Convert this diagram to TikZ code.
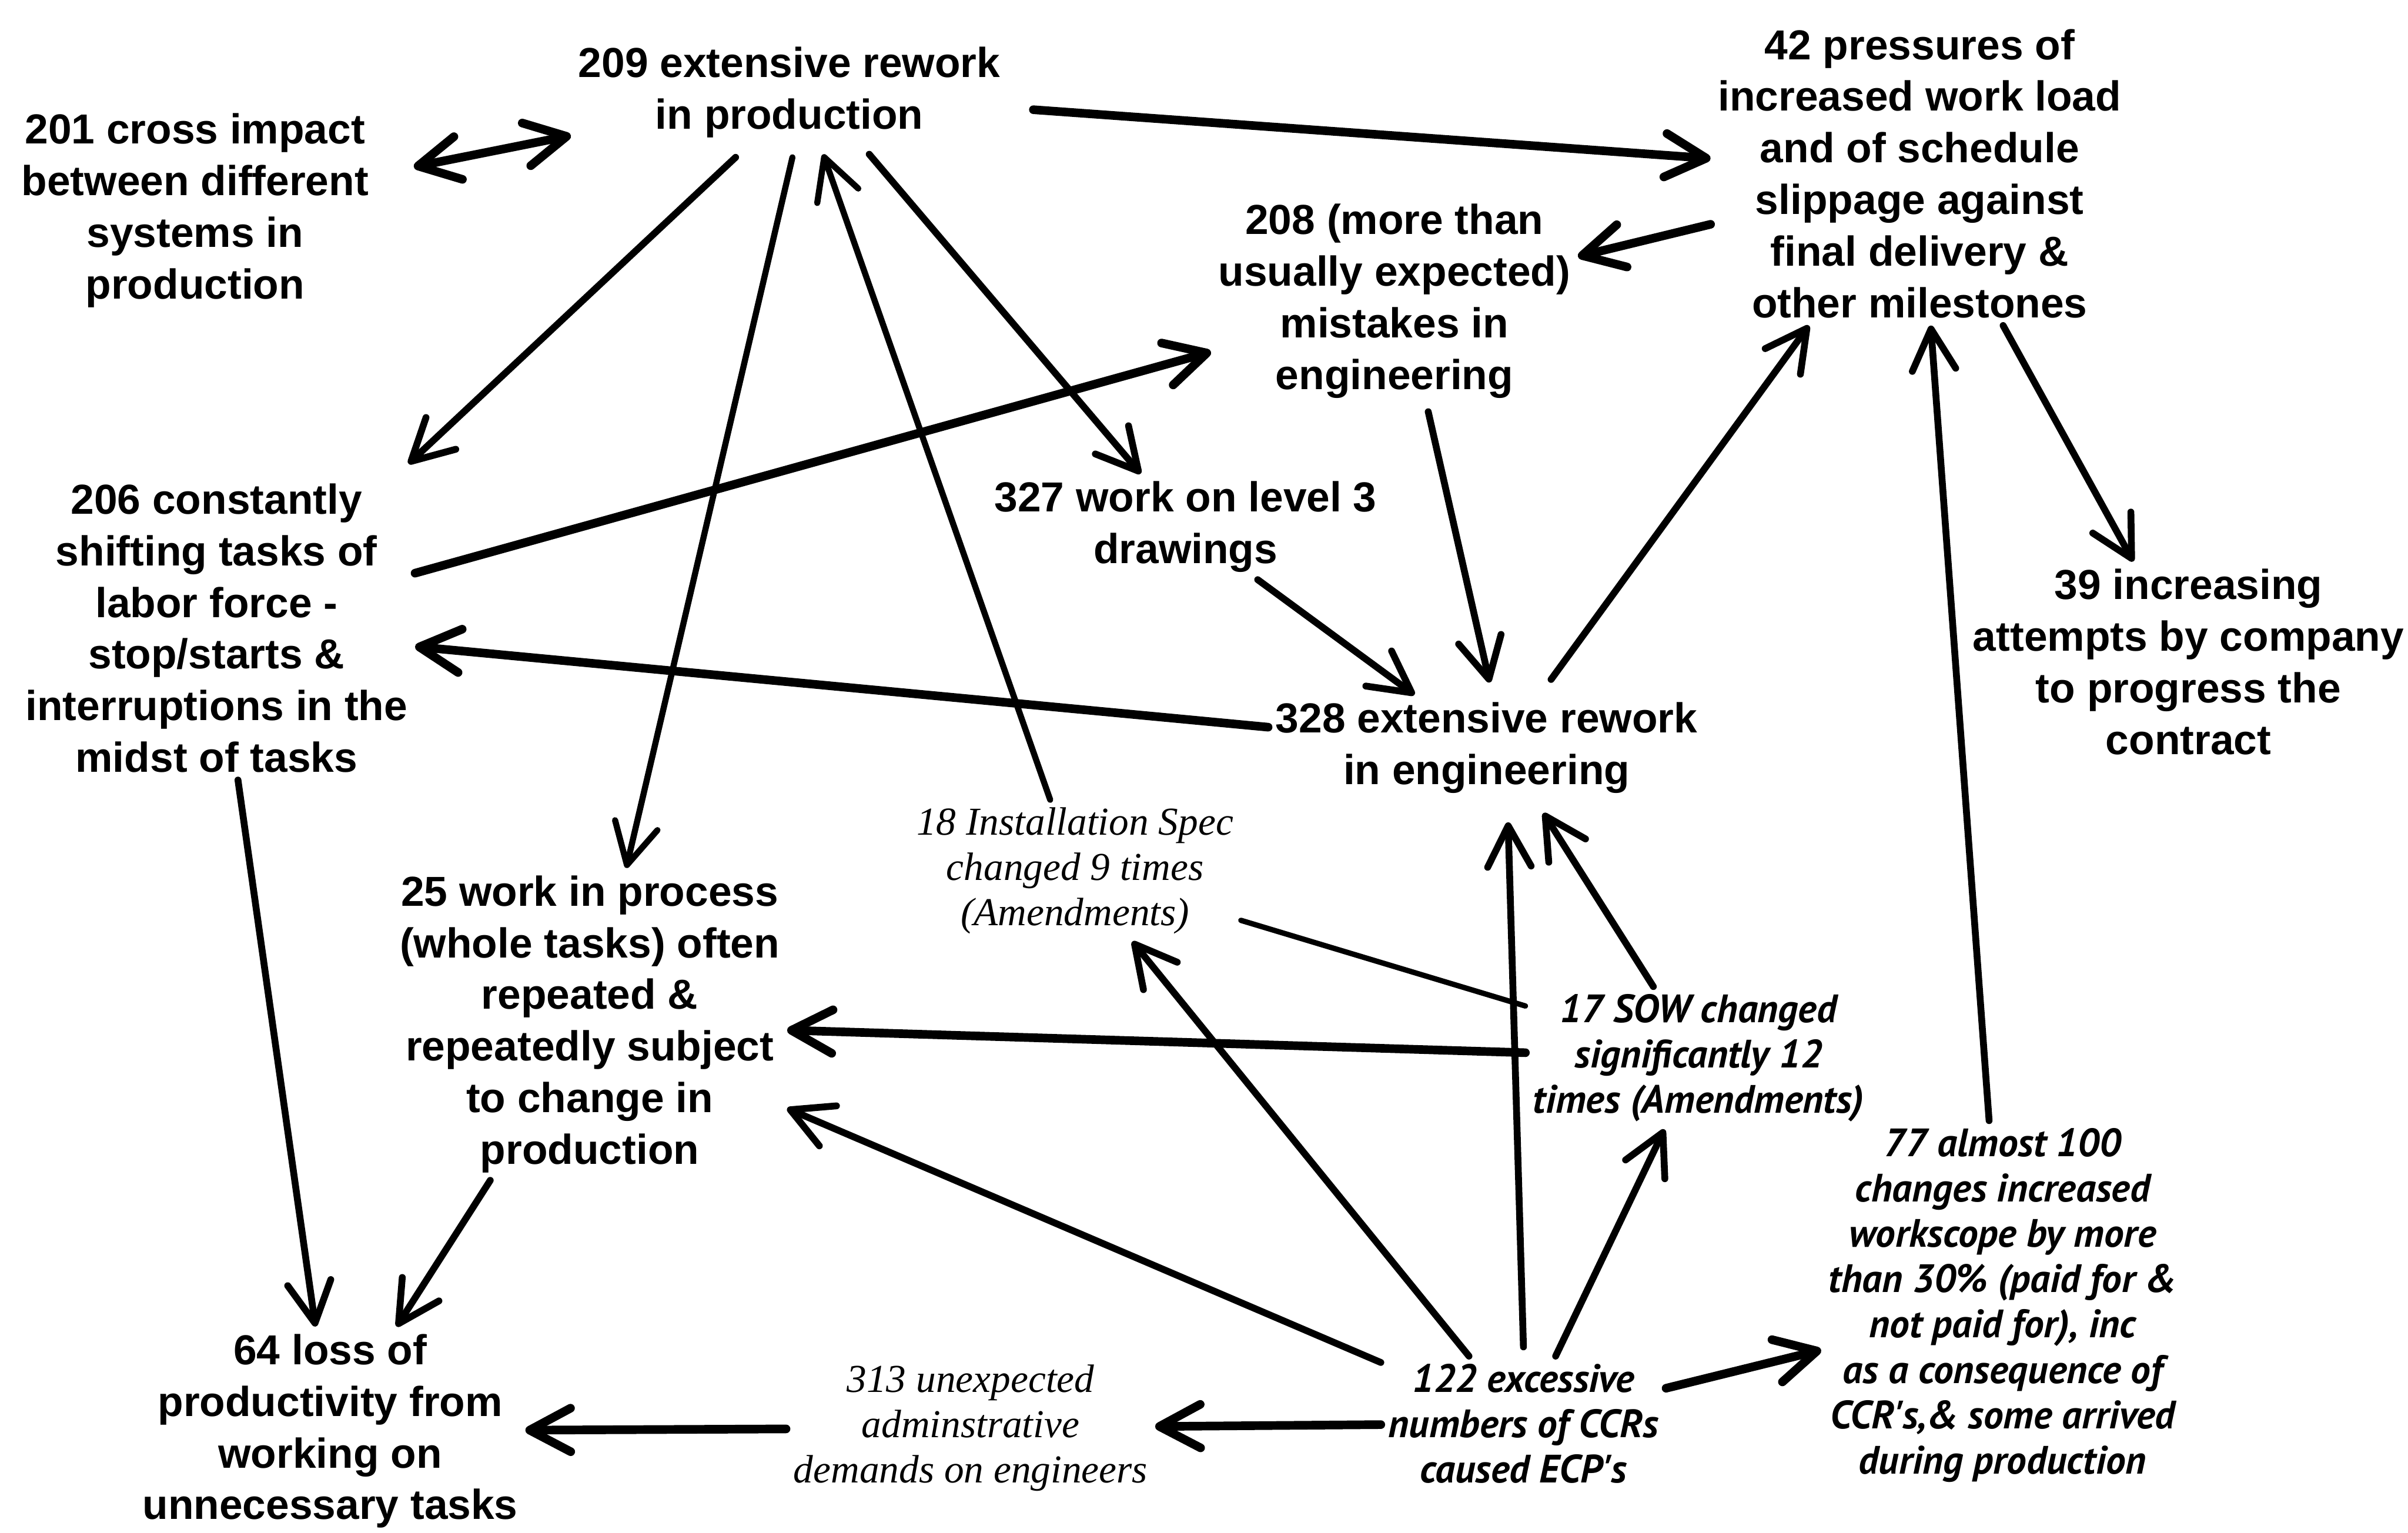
\documentclass[tikz,border=0pt]{standalone}
\usepackage{fontspec}
\setmainfont{Liberation Sans}
\newfontfamily\serifital{Liberation Serif}
\newfontfamily\sansital{PT Sans}
\usetikzlibrary{arrows.meta,calc}

\begin{document}
\begin{tikzpicture}[x=0.03cm,y=-0.03cm,
  bnode/.style={align=center,inner sep=4pt,
    font=\fontsize{23.3}{28.7}\selectfont\bfseries},
  inode/.style={align=center,inner sep=4pt,
    font=\fontsize{22}{25.2}\selectfont\serifital\itshape},
  hnode/.style={align=center,inner sep=4pt,
    font=\fontsize{22}{25.2}\selectfont\sansital\bfseries\itshape},
  conn/.style={line width=3.8pt,line cap=round,line join=round,
    -{Straight Barb[length=0.8cm,width=0.85cm,round]}},
  heavy/.style={conn,line width=4.8pt},
  light/.style={conn,line width=3.4pt},
  both/.style={heavy,{Straight Barb[length=0.8cm,width=0.85cm,round]}-{Straight Barb[length=0.8cm,width=0.85cm,round]}},
  plain/.style={line width=3pt,line cap=round}]
\useasboundingbox (0,0) rectangle (1568,998);

% factors
\node[bnode] (n201) at (127,137) {201 cross impact\\between different\\systems in\\production};
\node[bnode] (n209) at (514,60) {209 extensive rework\\in production};
\node[bnode] (n42) at (1250,113) {42 pressures of\\increased work load\\and of schedule\\slippage against\\final delivery \&\\other milestones};
\node[bnode] (n208) at (908,196) {208 (more than\\usually expected)\\mistakes in\\engineering};
\node[bnode] (n206) at (141,409) {206 constantly\\shifting tasks of\\labor force -\\stop/starts \&\\interruptions in the\\midst of tasks};
\node[bnode] (n327) at (772,343) {327 work on level 3\\drawings};
\node[bnode] (n39) at (1425,431) {39 increasing\\attempts by company\\to progress the\\contract};
\node[bnode] (n328) at (968,487) {328 extensive rework\\in engineering};
\node[bnode] (n25) at (384,667) {25 work in process\\(whole tasks) often\\repeated \&\\repeatedly subject\\to change in\\production};
\node[bnode] (n64) at (215,932) {64 loss of\\productivity from\\working on\\unnecessary tasks};

% external events
\node[inode] (n18) at (700,567) {18 Installation Spec\\changed 9 times\\(Amendments)};
\node[inode] (n313) at (632,930) {313 unexpected\\adminstrative\\demands on engineers};
\node[hnode] (n17) at (1106,689) {17 SOW changed\\significantly 12\\times (Amendments)};
\node[hnode] (n122) at (992,927) {122 excessive\\numbers of CCRs\\caused ECP's};
\node[hnode] (n77) at (1304,850) {77 almost 100\\changes increased\\workscope by more\\than 30\% (paid for \&\\not paid for), inc\\as a consequence of\\CCR's,\& some arrived\\during production};

% links
\draw[both,shorten <=0.75cm] (n201) -- (n209);
\draw[heavy,shorten <=0.5cm] (n209) -- (n42);
\draw[heavy] (n42) -- (n208);
\draw[conn] ($(n209.south)+(-35,8)$) -- ($(n206.north)+(125,-8)$);
\draw[light] ($(n209.south)+(2,8)$) -- (n25);
\draw[light] (n18) -- ($(n209.south)+(22,6)$);
\draw[conn] ($(n209.south)+(52,6)$) -- (n327);
\draw[heavy] (n206) -- (n208);
\draw[heavy] (n328) -- (n206);
\draw[conn] ($(n208.south)+(22,4)$) -- ($(n328.north)+(2,-8)$);
\draw[conn] (n327) -- (n328);
\draw[conn] ($(n328.north)+(42,-10)$) -- (n42);
\draw[conn] (n42) -- (n39);
\draw[conn] (n77) -- (n42);
\draw[conn] (n206) -- (n64);
\draw[conn] (n25) -- (n64);
\draw[heavy] (n17) -- (n25);
\draw[conn] (n122) -- (n25);
\draw[conn] (n122) -- (n18);
\draw[conn] ($(n122.north)+(0,-6)$) -- ($(n328.south)+(14,14)$);
\draw[conn] (n17) -- ($(n328.south)+(37,8)$);
\draw[conn] (n122) -- (n17);
\draw[heavy] (n122) -- (n77);
\draw[heavy] (n122) -- (n313);
\draw[heavy] (n313) -- (n64);
\draw[plain] (n18) -- (n17);
\end{tikzpicture}
\end{document}
